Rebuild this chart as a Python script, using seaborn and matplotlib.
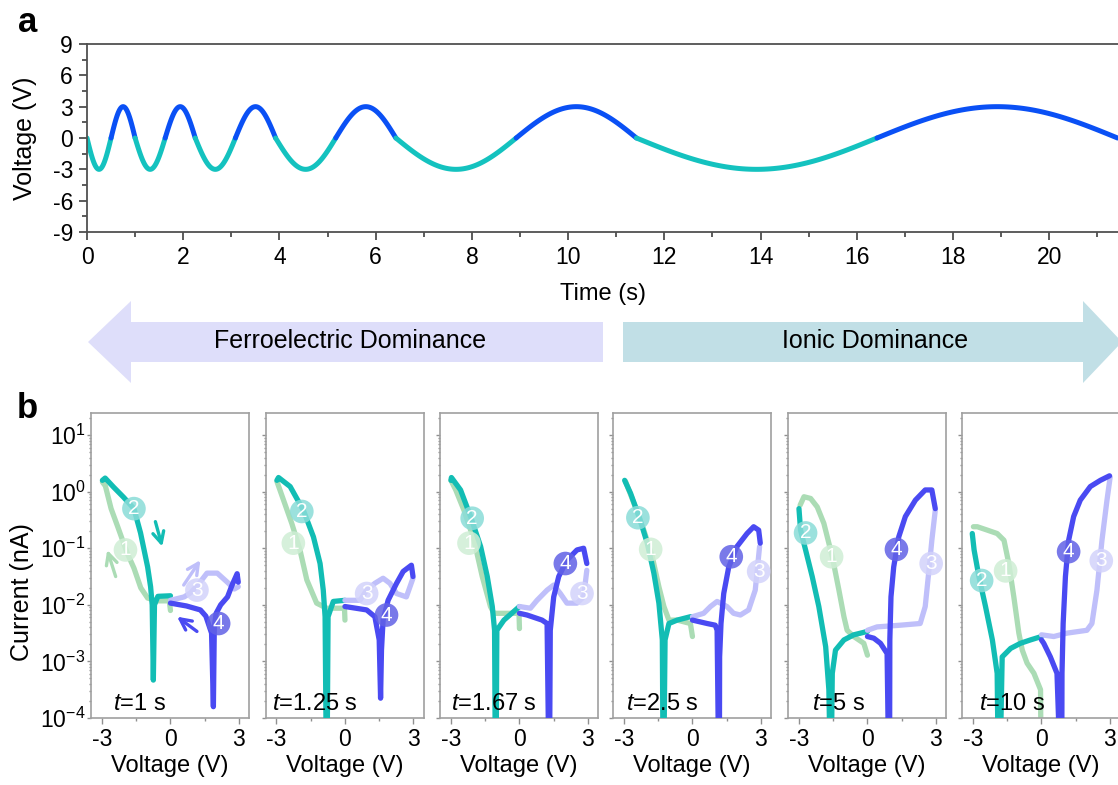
import numpy as np
import pandas as pd
import matplotlib
matplotlib.use('Agg')
import matplotlib.pyplot as plt
import seaborn as sns
from matplotlib.patches import Polygon
from matplotlib.ticker import MultipleLocator, LogLocator, LogFormatterMathtext, NullFormatter

# ---------------- data ----------------
# panel a: voltage sweep, one sine cycle per period
sweep_periods = [1, 1.25, 1.67, 2.5, 5, 10]   # s
sweep_amp = 3.0                               # V

# panel b: I-V loops, points are [V, log10(I / nA)]
# seg1: 0 -> -3, seg2: -3 -> 0, seg3: 0 -> 3, seg4: 3 -> 0
p1_seg1 = [[0, -2.1], [-0.05, -1.93], [-0.6, -1.93], [-1.0, -1.88], [-1.3, -1.7], [-1.6, -1.35],
           [-1.9, -1.08], [-2.3, -0.63], [-2.6, -0.3], [-2.85, 0.1], [-2.98, 0.17]]
p1_seg2 = [[-2.98, 0.2], [-2.86, 0.24], [-2.49, 0.08], [-2.05, -0.1], [-1.6, -0.3], [-1.31, -0.73],
           [-1.0, -1.33], [-0.87, -1.68], [-0.8, -2.0], [-0.75, -3.33], [-0.7, -2.0], [-0.55, -1.85], [0, -1.84]]
p1_seg3 = [[0, -1.92], [0.6, -1.86], [0.87, -1.79], [1.2, -1.65], [1.6, -1.44], [2.05, -1.44],
           [2.49, -1.6], [2.8, -1.72], [2.97, -1.68]]
p1_seg4 = [[2.97, -1.6], [2.92, -1.45], [2.7, -1.65], [2.5, -1.86], [2.2, -2.0], [2.0, -2.15],
           [1.92, -2.4], [1.88, -3.8], [1.8, -2.5], [1.55, -2.2], [1.31, -2.09], [0.7, -2.02], [0, -1.97]]

p2_seg1 = [[0, -2.27], [-0.02, -2.06], [-0.8, -2.06], [-1.24, -1.97], [-1.67, -1.56], [-1.97, -1.03],
           [-2.33, -0.56], [-2.69, -0.15], [-2.98, 0.18]]
p2_seg2 = [[-2.98, 0.2], [-2.91, 0.25], [-2.4, 0.09], [-1.82, -0.33], [-1.38, -0.8], [-1.09, -1.27],
           [-0.95, -1.74], [-0.87, -2.21], [-0.82, -4.6], [-0.78, -4.6], [-0.74, -2.21], [-0.51, -1.94], [0, -1.92]]
p2_seg3 = [[0, -1.92], [0.66, -1.92], [0.95, -1.74], [1.31, -1.62], [1.67, -1.53], [1.97, -1.62],
           [2.26, -1.8], [2.69, -1.86], [2.98, -1.53]]
p2_seg4 = [[2.98, -1.5], [2.91, -1.3], [2.55, -1.41], [2.26, -1.62], [1.89, -1.92], [1.67, -2.27],
           [1.6, -2.8], [1.56, -3.65], [1.5, -2.62], [1.31, -2.21], [0.95, -2.09], [0, -2.03]]

p3_seg1 = [[0, -2.42], [-0.02, -2.15], [-1.12, -2.15], [-1.27, -2.03], [-1.63, -1.5], [-1.99, -0.86],
           [-2.43, -0.33], [-2.79, 0.03], [-3.0, 0.2]]
p3_seg2 = [[-3.0, 0.2], [-2.98, 0.25], [-2.58, 0.03], [-2.14, -0.44], [-1.7, -0.97], [-1.41, -1.5],
           [-1.19, -2.03], [-1.09, -2.45], [-1.06, -4.6], [-1.02, -4.6], [-0.99, -2.45], [-0.68, -2.27], [0, -2.03]]
p3_seg3 = [[0, -2.03], [0.48, -2.06], [0.77, -1.92], [1.21, -1.74], [1.5, -1.65], [1.79, -1.8],
           [2.08, -1.97], [2.52, -1.97], [2.81, -1.86], [2.95, -1.39]]
p3_seg4 = [[2.95, -1.27], [2.81, -1.0], [2.52, -1.03], [2.08, -1.21], [1.72, -1.5], [1.5, -1.86],
           [1.35, -2.45], [1.32, -4.6], [1.28, -4.6], [1.21, -2.33], [0.99, -2.27], [0.33, -2.18], [0, -2.15]]

p4_seg1 = [[0, -2.56], [-0.09, -2.33], [-0.67, -2.27], [-1.03, -2.27], [-1.25, -2.03], [-1.47, -1.68],
           [-1.76, -1.15], [-2.13, -0.68], [-2.56, -0.21], [-2.93, 0.18]]
p4_seg2 = [[-2.97, 0.2], [-2.71, -0.03], [-2.34, -0.44], [-1.98, -0.91], [-1.69, -1.44], [-1.47, -1.97],
           [-1.32, -2.62], [-1.29, -4.6], [-1.25, -4.6], [-1.2, -2.62], [-1.03, -2.33], [-0.67, -2.27],
           [-0.09, -2.21], [0, -2.21]]
p4_seg3 = [[0, -2.21], [0.49, -2.15], [0.79, -2.03], [1.08, -1.94], [1.51, -2.03], [1.8, -2.15],
           [2.1, -2.18], [2.46, -2.09], [2.75, -1.74], [2.94, -0.97]]
p4_seg4 = [[2.97, -0.91], [2.9, -0.68], [2.68, -0.62], [2.39, -0.74], [1.95, -0.97], [1.59, -1.33],
           [1.37, -1.8], [1.25, -2.33], [1.19, -2.92], [1.18, -4.6], [1.14, -4.6], [1.08, -2.45],
           [1.0, -2.36], [0.64, -2.33], [0, -2.27]]

p5_seg1 = [[0, -2.89], [-0.16, -2.68], [-0.6, -2.56], [-0.89, -2.45], [-1.03, -2.21], [-1.25, -1.74],
           [-1.54, -1.15], [-1.91, -0.56], [-2.2, -0.27], [-2.49, -0.12], [-2.78, -0.09], [-2.95, -0.24]]
p5_seg2 = [[-3.0, -0.3], [-2.93, -0.68], [-2.71, -1.03], [-2.42, -1.5], [-2.13, -2.03], [-1.83, -2.74],
           [-1.69, -3.5], [-1.64, -4.6], [-1.58, -4.6], [-1.54, -3.21], [-1.4, -2.8], [-1.03, -2.62],
           [-0.6, -2.53], [0, -2.47]]
p5_seg3 = [[0, -2.45], [0.42, -2.39], [1.44, -2.36], [2.31, -2.33], [2.53, -2.03], [2.68, -1.44],
           [2.82, -0.86], [2.97, -0.33]]
p5_seg4 = [[2.97, -0.3], [2.82, 0.03], [2.53, 0.03], [2.1, -0.15], [1.66, -0.44], [1.37, -0.8],
           [1.15, -1.33], [1.03, -1.86], [0.98, -2.62], [0.97, -4.6], [0.92, -4.6], [0.86, -2.86],
           [0.57, -2.68], [0.28, -2.59], [0, -2.56]]

p6_seg1 = [[-0.02, -4.6], [-0.04, -3.5], [-0.33, -3.21], [-0.63, -3.03], [-0.84, -2.8], [-0.99, -2.5],
           [-1.21, -1.86], [-1.43, -1.27], [-1.64, -0.86], [-1.94, -0.74], [-2.37, -0.68], [-2.81, -0.62],
           [-2.98, -0.62]]
p6_seg2 = [[-3.03, -0.74], [-2.95, -1.03], [-2.74, -1.5], [-2.45, -2.03], [-2.15, -2.62], [-1.94, -3.21],
           [-1.9, -4.6], [-1.8, -4.6], [-1.72, -2.92], [-1.35, -2.77], [-0.92, -2.68], [-0.48, -2.62], [0, -2.56]]
p6_seg3 = [[0, -2.53], [0.54, -2.56], [1.12, -2.5], [1.99, -2.45], [2.21, -2.33], [2.43, -1.74],
           [2.65, -0.86], [2.87, -0.15], [3.01, 0.26]]
p6_seg4 = [[2.98, 0.28], [2.58, 0.2], [2.14, 0.09], [1.7, -0.15], [1.41, -0.44], [1.19, -0.86],
           [1.05, -1.5], [0.95, -2.33], [0.9, -3.21], [0.89, -4.6], [0.8, -4.6], [0.68, -3.21],
           [0.39, -2.92], [0.1, -2.68], [0, -2.62]]

# numbered markers, label 1..4 -> [V, log10 I]
p1_marks = [[-1.97, -1.03], [-1.6, -0.30], [1.16, -1.74], [2.11, -2.33]]
p2_marks = [[-2.26, -0.91], [-1.89, -0.35], [0.95, -1.8], [1.82, -2.18]]
p3_marks = [[-2.21, -0.91], [-2.07, -0.47], [2.74, -1.8], [2.01, -1.27]]
p4_marks = [[-1.83, -1.02], [-2.39, -0.46], [2.9, -1.41], [1.7, -1.15]]
p5_marks = [[-1.57, -1.15], [-2.71, -0.73], [2.79, -1.27], [1.27, -1.02]]
p6_marks = [[-1.57, -1.4], [-2.62, -1.57], [2.62, -1.22], [1.19, -1.06]]

period_labels = ['1', '1.25', '1.67', '2.5', '5', '10']

# direction arrows in the first loop: [tail, head]
p1_arrows = [[[-2.4, -1.5], [-2.77, -1.03]],
             [[-0.66, -0.53], [-0.36, -0.97]],
             [[0.58, -1.65], [1.31, -1.21]],
             [[1.16, -2.47], [0.29, -2.21]]]

# ---------------- style ----------------
sns.set_theme(style='ticks')
plt.rcParams['font.family'] = ['Liberation Sans', 'DejaVu Sans']
plt.rcParams['mathtext.fontset'] = 'custom'
plt.rcParams['mathtext.rm'] = 'Liberation Sans'
plt.rcParams['mathtext.it'] = 'Liberation Sans:italic'
plt.rcParams['axes.unicode_minus'] = False
for key in ['text.color', 'axes.labelcolor', 'xtick.labelcolor', 'ytick.labelcolor']:
    plt.rcParams[key] = 'black'

c_seg = ['#abdcb5', '#12bdb4', '#bfbffa', '#4a4af2']
c_mark = ['#cfeed5', '#8adcd8', '#d3d3fb', '#6262e6']
c_wave_neg = '#14c2bf'
c_wave_pos = '#0a50f5'

W, H = 1118, 785
fig = plt.figure(figsize=(W / 100, H / 100), dpi=100)


def px_axes(left, top, right, bottom):
    return fig.add_axes([left / W, 1 - bottom / H, (right - left) / W, (bottom - top) / H])


# ---------------- banner ----------------
bg = fig.add_axes([0, 0, 1, 1], zorder=-1)
bg.set_xlim(0, W)
bg.set_ylim(H, 0)
bg.axis('off')
bg.add_patch(Polygon([[88, 342], [131, 301], [131, 322], [603, 322], [603, 362], [131, 362], [131, 383]],
                     closed=True, facecolor='#dedefa', edgecolor='none'))
bg.add_patch(Polygon([[623, 322], [1083, 322], [1083, 301], [1122, 342], [1083, 383], [1083, 362], [623, 362]],
                     closed=True, facecolor='#c1dfe6', edgecolor='none'))
bg.text(350, 341, 'Ferroelectric Dominance', fontsize=18, ha='center', va='center')
bg.text(875, 341, 'Ionic Dominance', fontsize=18, ha='center', va='center')
bg.text(28, 22, 'a', fontsize=25, fontweight='bold', ha='center', va='center')
bg.text(27, 408, 'b', fontsize=25, fontweight='bold', ha='center', va='center')

# ---------------- panel a ----------------
axa = px_axes(87, 44, W + 1, 232)
t0 = 0.0
for P in sweep_periods:
    for half, col in ((0, c_wave_neg), (1, c_wave_pos)):
        tt = np.linspace(t0 + half * P / 2, t0 + (half + 1) * P / 2, 80)
        vv = -sweep_amp * np.sin(2 * np.pi * (tt - t0) / P)
        sns.lineplot(x=tt, y=vv, color=col, lw=3.6, ax=axa, sort=False, estimator=None)
    t0 += P
axa.set_xlim(0, 21.45)
axa.set_ylim(-9, 9)
axa.xaxis.set_major_locator(MultipleLocator(2))
axa.xaxis.set_minor_locator(MultipleLocator(1))
axa.yaxis.set_major_locator(MultipleLocator(3))
axa.yaxis.set_minor_locator(MultipleLocator(1.5))
axa.tick_params(which='both', direction='out', color='#404040', width=1.2, labelsize=16.5, pad=4)
axa.tick_params(which='major', length=6)
axa.tick_params(which='minor', length=3.5)
for s in axa.spines.values():
    s.set_color('#505050')
    s.set_linewidth(1.3)
axa.set_xlabel('Time (s)', fontsize=17)
axa.xaxis.set_label_coords(0.5, -0.27)
axa.set_ylabel('Voltage (V)', fontsize=18)
axa.yaxis.set_label_coords(-0.048, 0.5)

# ---------------- panel b ----------------
loops = [[p1_seg1, p1_seg2, p1_seg3, p1_seg4],
         [p2_seg1, p2_seg2, p2_seg3, p2_seg4],
         [p3_seg1, p3_seg2, p3_seg3, p3_seg4],
         [p4_seg1, p4_seg2, p4_seg3, p4_seg4],
         [p5_seg1, p5_seg2, p5_seg3, p5_seg4],
         [p6_seg1, p6_seg2, p6_seg3, p6_seg4]]
marks = [p1_marks, p2_marks, p3_marks, p4_marks, p5_marks, p6_marks]
lefts = [91, 265.5, 440, 613, 788, 962]
label_x = [-2.53, -3.2, -3.01, -2.93, -2.42, -2.74]

for i, (segs, mk) in enumerate(zip(loops, marks)):
    L = lefts[i]
    ax = px_axes(L, 413, L + 158, 718)
    ax.set_yscale('log')
    for k, seg in enumerate(segs):
        df = pd.DataFrame(seg, columns=['V', 'logI'])
        df['I'] = 10 ** df['logI']
        sns.lineplot(data=df, x='V', y='I', color=c_seg[k], lw=3.8, ax=ax,
                     sort=False, estimator=None, zorder=2 + k)
    mdf = pd.DataFrame(mk, columns=['V', 'logI'])
    mdf['I'] = 10 ** mdf['logI']
    mdf['n'] = ['1', '2', '3', '4']
    sns.scatterplot(data=mdf, x='V', y='I', hue='n', palette=c_mark, s=290, alpha=0.85,
                    edgecolor='none', legend=False, ax=ax, zorder=8)
    for _, r in mdf.iterrows():
        ax.text(r['V'], r['I'], r['n'], color='white', fontsize=15, ha='center', va='center', zorder=9)
    ax.text(label_x[i], 10 ** -3.85, r'$\mathit{t}$=' + period_labels[i] + ' s', fontsize=17,
            ha='left', va='baseline', zorder=10)

    ax.set_xlim(-3.48, 3.44)
    ax.set_ylim(1e-4, 10 ** 1.39)
    ax.set_xticks([-3, 0, 3])
    ax.xaxis.set_minor_locator(MultipleLocator(1.5))
    ax.yaxis.set_major_locator(LogLocator(base=10, numticks=10))
    ax.yaxis.set_minor_locator(LogLocator(base=10, subs=np.arange(2, 10), numticks=10))
    ax.yaxis.set_minor_formatter(NullFormatter())
    ax.tick_params(which='both', direction='out', color='#909090', width=1.0)
    ax.tick_params(axis='x', which='major', length=4, labelsize=16.5, pad=3)
    ax.tick_params(axis='x', which='minor', length=2.5)
    ax.tick_params(axis='y', which='major', length=3, pad=1, labelsize=16.5)
    ax.tick_params(axis='y', which='minor', length=1.5)
    if i == 0:
        ax.yaxis.set_major_formatter(LogFormatterMathtext())
        ax.set_ylabel('Current (nA)', fontsize=18)
        ax.yaxis.set_label_coords(-0.36, 0.413)
    else:
        ax.yaxis.set_major_formatter(NullFormatter())
        ax.set_ylabel('')
    for s in ax.spines.values():
        s.set_color('#a0a0a0')
        s.set_linewidth(1.2)
    ax.set_xlabel('Voltage (V)', fontsize=17)
    ax.xaxis.set_label_coords(0.5, -0.12)

    if i == 0:
        for (tail, head), col in zip(p1_arrows, c_seg):
            ax.annotate('', xy=(head[0], 10 ** head[1]), xytext=(tail[0], 10 ** tail[1]),
                        arrowprops=dict(arrowstyle='->', color=col, lw=2.4, mutation_scale=20,
                                        shrinkA=0, shrinkB=0),
                        zorder=7)

fig.savefig('out.png', dpi=100)
